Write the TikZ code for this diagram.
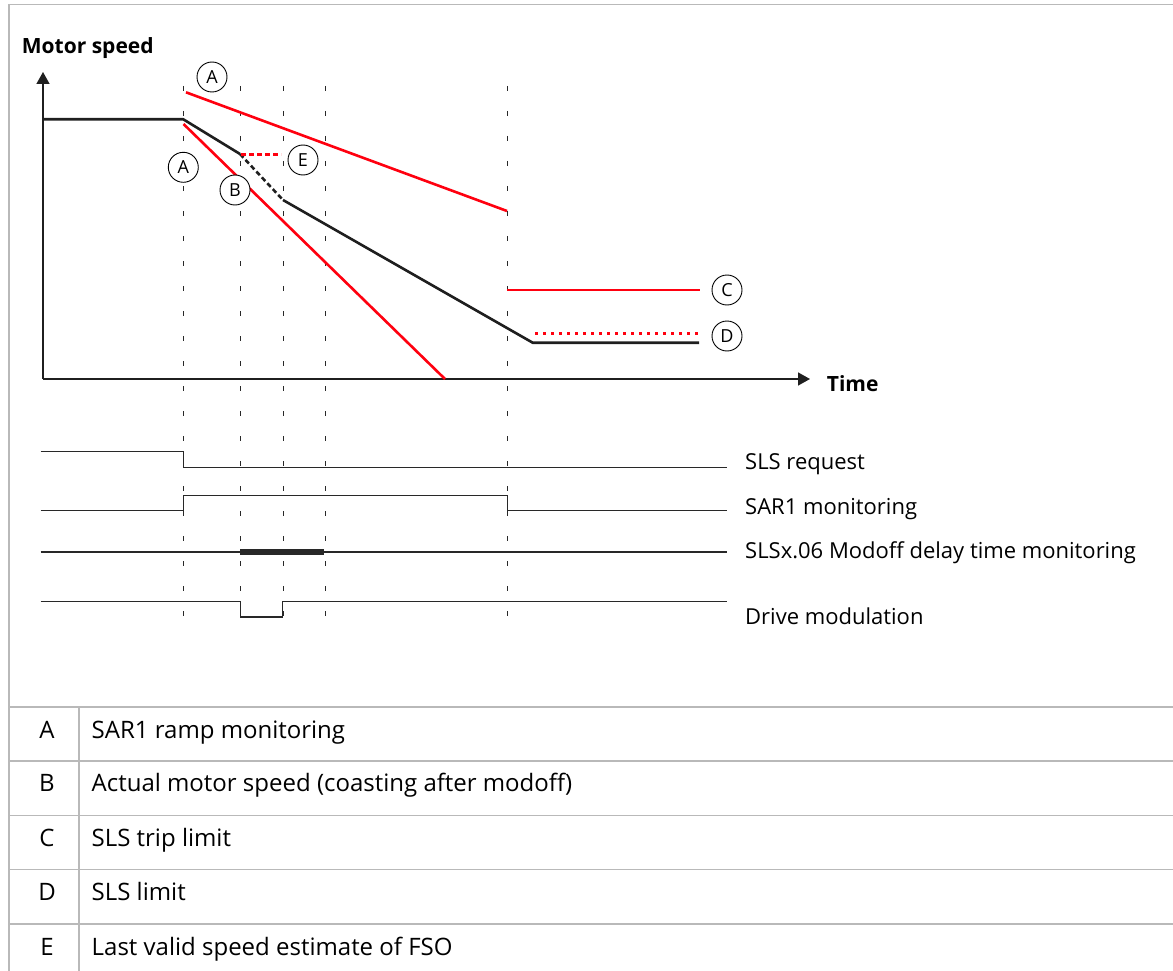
\documentclass[tikz,border=0pt]{standalone}
\usepackage{fontspec}
\setmainfont{Open Sans}
\usepackage{tikz}
\usetikzlibrary{arrows.meta}
\definecolor{abbred}{RGB}{255,0,15}
\definecolor{framegray}{RGB}{185,185,185}
\definecolor{siggray}{RGB}{40,40,40}

\begin{document}
\begin{tikzpicture}[line join=miter,x=1pt,y=-1pt,
  callout/.style={circle,draw=black,line width=0.9pt,fill=white,minimum size=30pt,inner sep=0pt,font=\fontsize{18}{21}\selectfont},
  tlabel/.style={anchor=base west,inner sep=0pt,font=\fontsize{22}{26}\selectfont},
  rowtext/.style={anchor=base west,inner sep=0pt,font=\fontsize{24}{28}\selectfont},
  rowkey/.style={anchor=base,inner sep=0pt,font=\fontsize{24}{28}\selectfont},
  gridline/.style={line width=1pt,color=siggray,dash pattern=on 5pt off 20pt},
  speed/.style={line width=2.6pt,color=black!88},
  limit/.style={line width=2.6pt,color=abbred},
  signal/.style={line width=1.3pt,color=siggray},
  axis/.style={line width=1.5pt,color=black!88,-{Triangle[length=12pt,width=13pt]}}]
                \useasboundingbox (0,0) rectangle (1173,971);
                % frame and legend table
                \draw [framegray,line width=1.6pt] (1173,4.5)-- (9,4.5)-- (9,971);
                \foreach \y in {707,761,815.5,869.5,924}
                    \draw [framegray,line width=1.6pt] (9,\y)-- (1173,\y);
                \draw [framegray,line width=1.6pt] (79,707)-- (79,971);
                % time marks
                \foreach \x in {183.5,240,283,325,507.5}
                    \draw [gridline] (\x,86)-- (\x,634);
                % axes
                \draw [axis] (43,379)-- (43,72);
                \draw [axis] (43,379)-- (810,379);
                \node [anchor=base west,inner sep=0pt,font=\fontsize{21}{25}\selectfont\bfseries] (speedlbl) at (21.7,53.3) {Motor speed};
                \node [anchor=base west,inner sep=0pt,font=\fontsize{21}{25}\selectfont\bfseries] (timelbl) at (826.7,391.7) {Time};
                % motor speed
                \draw [speed] (43,119.3)-- (183.3,119.3)-- (240,154);
                \draw [speed,dash pattern=on 5pt off 3pt] (240,154)-- (283,200);
                \draw [speed] (283,200)-- (532.7,342.7)-- (699,342.7);
                % limits
                \draw [limit] (186,92.3)-- (507,211);
                \draw [limit] (183.5,124)-- (445,379);
                \draw [limit,dash pattern=on 5pt off 3pt] (241,154.3)-- (281,154.3);
                \draw [limit] (507,290)-- (700,290);
                \draw [limit,line width=2.4pt,dash pattern=on 3pt off 5pt] (535,333.3)-- (700,333.3);
                % callouts
                \node [callout] (a1) at (212,77) {A};
                \node [callout] (a2) at (183.3,167.3) {A};
                \node [callout] (b) at (235,190) {B};
                \node [callout] (e) at (303,160) {E};
                \node [callout] (c) at (727,290) {C};
                \node [callout] (d) at (727,336) {D};
                % signals
                \draw [signal] (40.6,451.7)-- (183.7,451.7)-- (183.7,467.3)-- (727,467.3);
                \draw [signal] (40.6,510.3)-- (183.7,510.3)-- (183.7,495.3)-- (507.5,495.3)-- (507.5,510.3)-- (727,510.3);
                \draw [signal] (40.6,552)-- (727,552);
                \draw [signal,line width=5.3pt] (240.3,552)-- (324.2,552);
                \draw [signal] (40.6,601.7)-- (240.3,601.7)-- (240.3,617)-- (282.4,617)-- (282.4,601.7)-- (727,601.7);
                \node [tlabel] (slsreq) at (745,469.3) {SLS request};
                \node [tlabel] (sarmon) at (745,514) {SAR1 monitoring};
                \node [tlabel] (modoff) at (745,558.3) {SLSx.06 Modoff delay time monitoring};
                \node [tlabel] (drvmod) at (745,624.3) {Drive modulation};
                % legend rows
                \node [rowkey] (ka) at (47,738.3) {A};
                \node [rowtext] (ta) at (91.5,738.3) {SAR1 ramp monitoring};
                \node [rowkey] (kb) at (47,791.7) {B};
                \node [rowtext] (tb) at (91.5,791.7) {Actual motor speed (coasting after modoff)};
                \node [rowkey] (kc) at (47,846.7) {C};
                \node [rowtext] (tc) at (91.5,846.7) {SLS trip limit};
                \node [rowkey] (kd) at (47,900.7) {D};
                \node [rowtext] (td) at (91.5,900.7) {SLS limit};
                \node [rowkey] (ke) at (47,955) {E};
                \node [rowtext] (te) at (91.5,955) {Last valid speed estimate of FSO};
\end{tikzpicture}
\end{document}
